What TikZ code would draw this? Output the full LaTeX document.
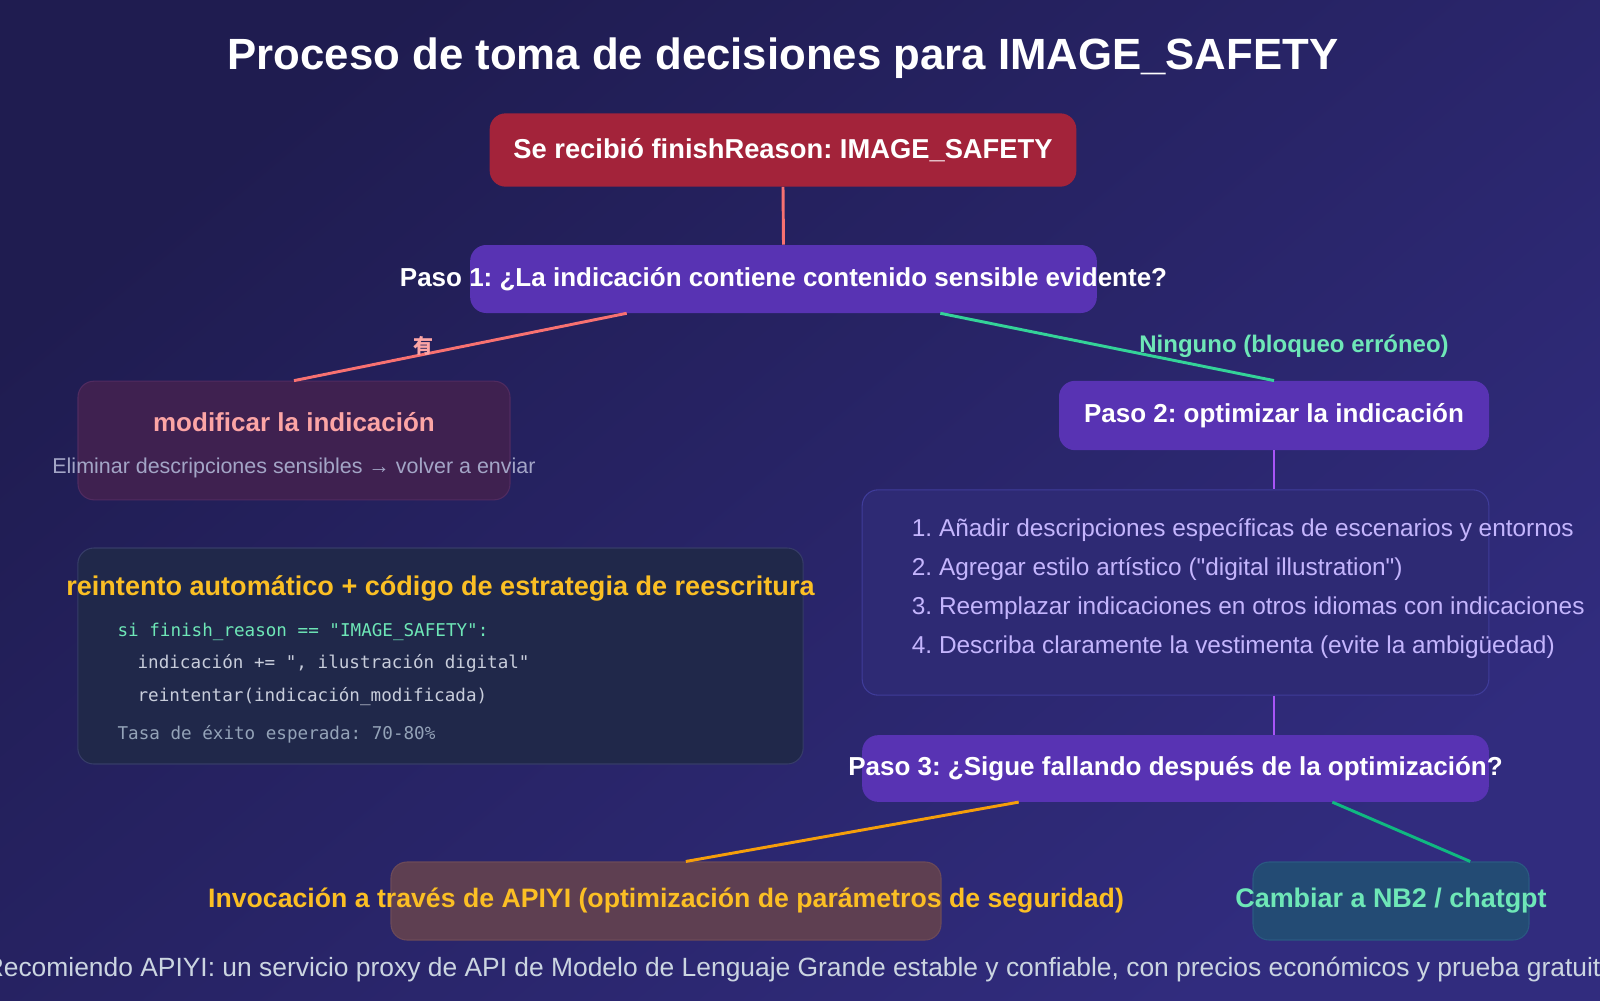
\documentclass[tikz,border=0pt]{standalone}
\usepackage{fontspec}
\setmainfont{Liberation Sans}
\setmonofont{DejaVu Sans Mono}
\newfontfamily\cjkfont{Noto Sans CJK SC}
\usetikzlibrary{positioning,calc}
\frenchspacing

\definecolor{bgtop}{HTML}{1F1C50}
\definecolor{bgbot}{HTML}{312C7E}
\definecolor{startred}{HTML}{A3233A}
\definecolor{stepfill}{HTML}{5833B3}
\definecolor{lnred}{HTML}{F87171}
\definecolor{lngreen}{HTML}{34D399}
\definecolor{lnpurple}{HTML}{A855F7}
\definecolor{lnorange}{HTML}{F59E0B}
\definecolor{lnteal}{HTML}{10B981}
\definecolor{lblred}{HTML}{FCA5A5}
\definecolor{lblgreen}{HTML}{6EE7B7}
\definecolor{modfill}{HTML}{3F2150}
\definecolor{moddraw}{HTML}{502B60}
\definecolor{subgrey}{HTML}{A3A5C6}
\definecolor{codefill}{HTML}{20284A}
\definecolor{codedraw}{HTML}{363C68}
\definecolor{codehead}{HTML}{FBBF24}
\definecolor{codegrey}{HTML}{C8CDDB}
\definecolor{codemuted}{HTML}{94A3B8}
\definecolor{listfill}{HTML}{2E2A74}
\definecolor{listdraw}{HTML}{3F3C9A}
\definecolor{listtext}{HTML}{C4B5FD}
\definecolor{apifill}{HTML}{5E3F51}
\definecolor{apidraw}{HTML}{6C4A58}
\definecolor{nbfill}{HTML}{234B74}
\definecolor{nbdraw}{HTML}{2A5982}
\definecolor{foottext}{HTML}{CBD5E1}

\begin{document}
\begin{tikzpicture}[
    x=0.75pt, y=-0.75pt,
    box/.style={rounded corners=12pt, inner sep=0pt},
    stepbox/.style={box, fill=stepfill, minimum width=470pt, minimum height=51pt, text=white, font=\fontsize{19.5}{23}\selectfont\bfseries},
    panel/.style={box, line width=0.8pt},
    conn/.style={line width=2.2pt},
    head/.style={inner sep=0pt, font=\fontsize{19.5}{23}\selectfont\bfseries},
    plain/.style={inner sep=0pt, font=\fontsize{16.1}{19}\selectfont},
    item/.style={inner sep=0pt, anchor=west, text=listtext, font=\fontsize{18.3}{22}\selectfont},
    code/.style={inner sep=0pt, anchor=west, font=\ttfamily\fontsize{13.2}{16}\selectfont},
    label/.style={inner sep=0pt, font=\fontsize{18}{21}\selectfont\bfseries}
]
% Background
\shade[top color=bgtop, bottom color=bgbot, shading angle=40] (0,0) rectangle (1600,1000);
\useasboundingbox (0,0) rectangle (1600,1000);
\clip (0,0) rectangle (1600,1000);

% Title
\node[head, text=white, font=\fontsize{32.8}{39}\selectfont\bfseries] (title) at (783,58) {Proceso de toma de decisiones para IMAGE\_SAFETY};

% Steps
\node[box, fill=startred, minimum width=440pt, minimum height=55pt, text=white, font=\fontsize{20.5}{24}\selectfont\bfseries] (start) at (783,150) {Se recibió finishReason: IMAGE\_SAFETY};
\node[stepbox] (s1) at (783.5,279) {\makebox[0pt]{Paso 1: ¿La indicación contiene contenido sensible evidente?}};
\node[stepbox, minimum width=322.5pt, minimum height=52pt] (s2) at (1274,415.5) {Paso 2: optimizar la indicación};
\node[stepbox, minimum height=50pt] (s3) at (1175.5,768.5) {\makebox[0pt]{Paso 3: ¿Sigue fallando después de la optimización?}};

% Left branch
\node[panel, fill=modfill, draw=moddraw, minimum width=324pt, minimum height=89pt] (mod) at (294,440.5) {};
\node[head, text=lblred] (modt) at ($(mod.north)+(0,41)$) {modificar la indicación};
\node[plain, text=subgrey] (mods) at ($(mod.north)+(0,87)$) {Eliminar descripciones sensibles → volver a enviar};

% Code panel
\node[panel, fill=codefill, draw=codedraw, minimum width=544pt, minimum height=162pt] (code) at (440.5,656) {};
\node[head, text=codehead, font=\fontsize{20.3}{24}\selectfont\bfseries] (codet) at ($(code.north)+(0,41)$) {reintento automático + código de estrategia de reescritura};
\node[code, text=lblgreen] (c1) at ($(code.north west)+(40,84)$) {si finish\_reason == "IMAGE\_SAFETY":};
\node[code, text=codegrey] (c2) at ($(code.north west)+(60,116)$) {indicación += ", ilustración digital"};
\node[code, text=codegrey] (c3) at ($(code.north west)+(60,149)$) {reintentar(indicación\_modificada)};
\node[code, text=codemuted] (c4) at ($(code.north west)+(40,187)$) {Tasa de éxito esperada: 70-80\%};

% Optimisation list
\node[panel, fill=listfill, draw=listdraw, minimum width=470pt, minimum height=154pt] (list) at (1175.5,592.5) {};
\node[item] (l1) at ($(list.north west)+(50,41)$) {1. Añadir descripciones específicas de escenarios y entornos};
\node[item] (l2) at ($(list.north west)+(50,80)$) {2. Agregar estilo artístico (\textquotedbl digital illustration\textquotedbl)};
\node[item] (l3) at ($(list.north west)+(50,119)$) {3. Reemplazar indicaciones en otros idiomas con indicaciones};
\node[item] (l4) at ($(list.north west)+(50,158)$) {4. Describa claramente la vestimenta (evite la ambigüedad)};

% Outcomes
\node[panel, fill=apifill, draw=apidraw, minimum width=412.5pt, minimum height=58.5pt, text=codehead, font=\fontsize{20}{24}\selectfont\bfseries] (api) at (666,901) {\makebox[0pt]{Invocación a través de APIYI (optimización de parámetros de seguridad)}};
\node[panel, fill=nbfill, draw=nbdraw, minimum width=207pt, minimum height=58.5pt, text=lblgreen, font=\fontsize{20.2}{24}\selectfont\bfseries] (nb) at (1391,901) {\makebox[0pt]{Cambiar a NB2 / chatgpt}};

% Footer
\node[plain, text=foottext, font=\fontsize{19.8}{24}\selectfont] (foot) at (800,970) {Recomiendo APIYI: un servicio proxy de API de Modelo de Lenguaje Grande estable y confiable, con precios económicos y prueba gratuita};

% Connectors
\draw[conn, lnred] (start.south) -- (s1.north);
\draw[conn, lnred] ($(s1.south west)!0.25!(s1.south east)$) -- node[label, pos=0.6, xshift=-3pt, yshift=6pt, text=lblred, font=\cjkfont\fontsize{15}{18}\selectfont\bfseries]{有} (mod.north);
\draw[conn, lngreen] ($(s1.south west)!0.75!(s1.south east)$) -- node[label, pos=1, xshift=15pt, yshift=26pt, text=lblgreen]{Ninguno (bloqueo erróneo)} (s2.north);
\draw[conn, lnpurple] (s2.south) -- (s2.south |- list.north);
\draw[conn, lnpurple] (s2.south |- list.south) -- (s2.south |- s3.north);
\draw[conn, lnorange] ($(s3.south west)!0.25!(s3.south east)$) -- ($(api.north west)!0.536!(api.north east)$);
\draw[conn, lnteal] ($(s3.south west)!0.75!(s3.south east)$) -- ($(nb.north west)!0.786!(nb.north east)$);
\end{tikzpicture}
\end{document}
